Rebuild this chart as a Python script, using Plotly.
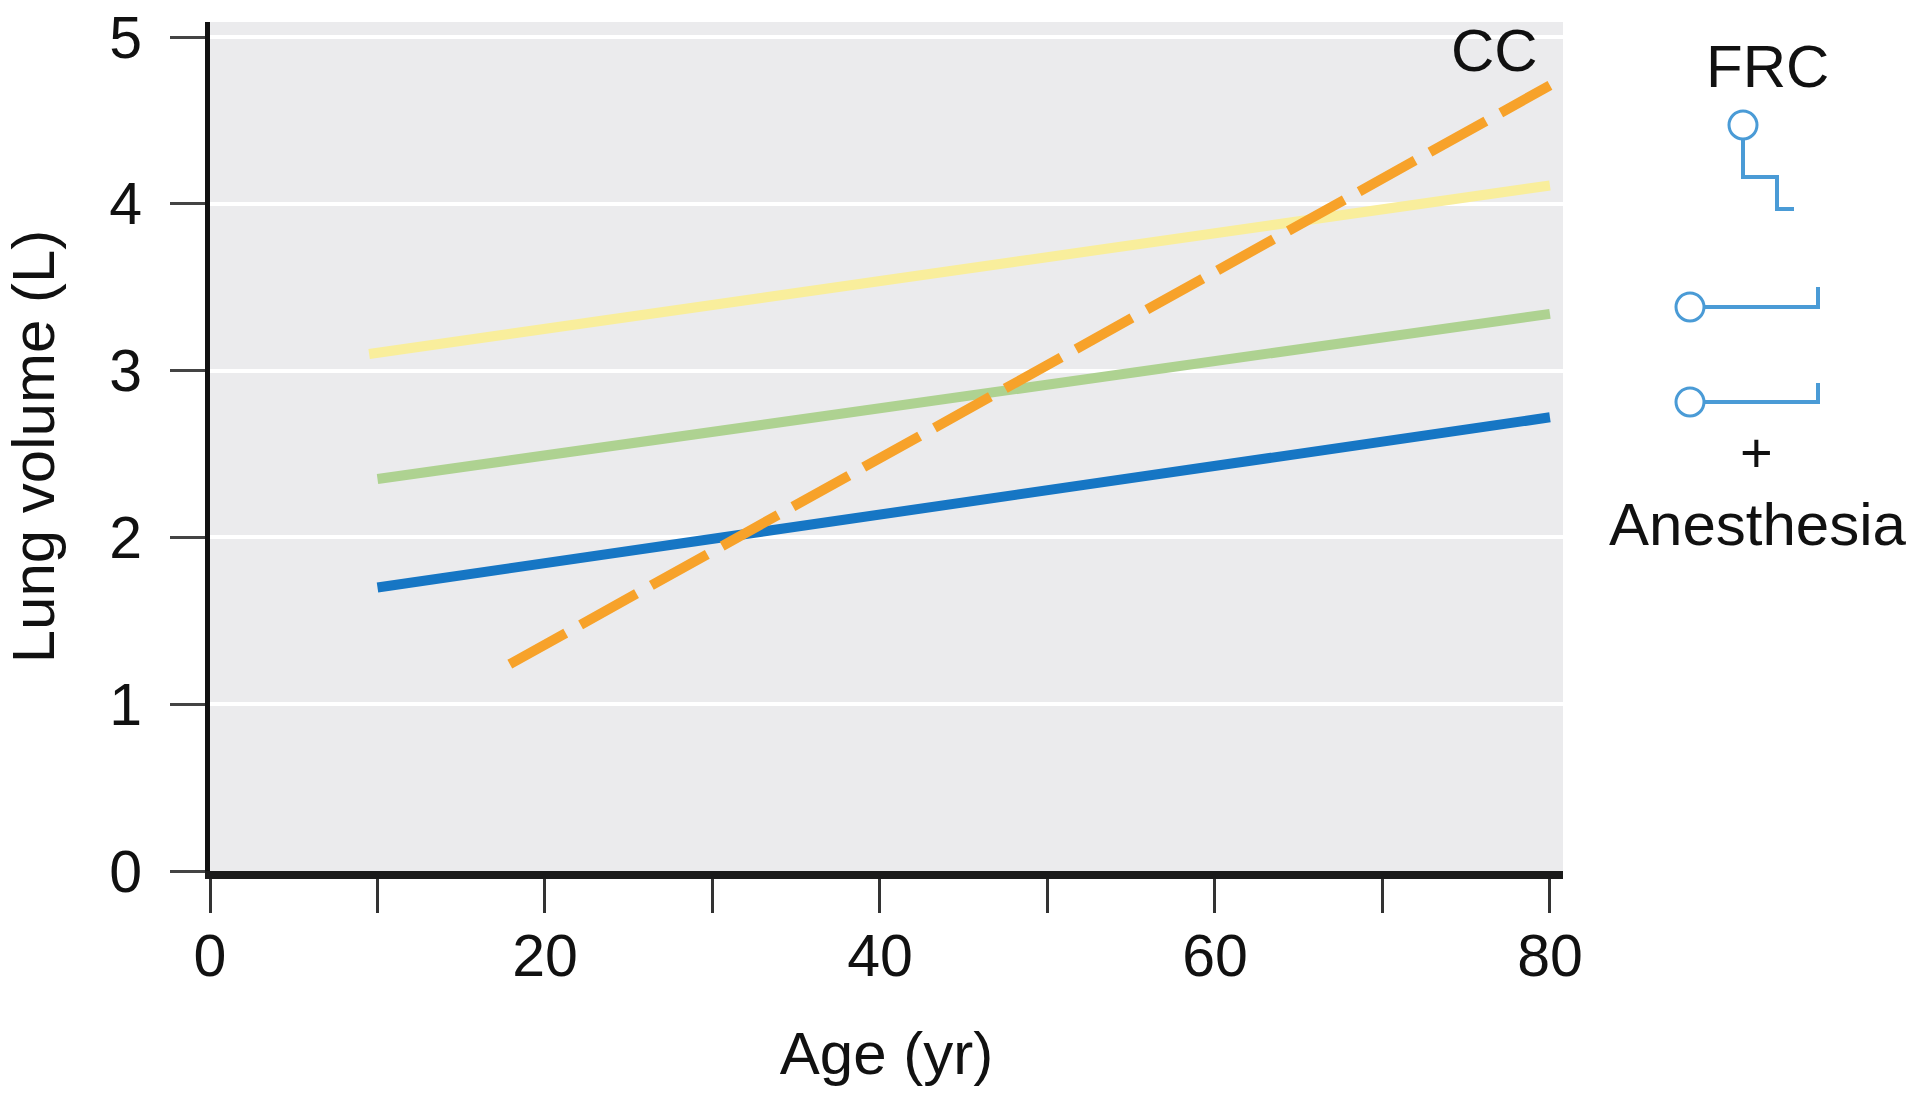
import plotly.graph_objects as go

# Lung volume vs age: FRC in three postures and closing capacity (CC)

# values
age_upright = [9.5, 40, 80]
frc_upright = [3.10, 3.54, 4.11]

age_supine = [10, 47, 80]
frc_supine = [2.35, 2.88, 3.34]

age_anesth = [10, 30.6, 50, 60, 80]
frc_anesth = [1.70, 2.00, 2.28, 2.44, 2.72]

age_cc = [17.9, 80]
cc_values = [1.24, 4.71]

x_ticks = [0, 20, 40, 60, 80]
y_ticks = [0, 1, 2, 3, 4, 5]

FONT = "Liberation Sans, Arial, sans-serif"
ICON_BLUE = "#4A9BD6"

W, H = 1929, 1101
# plot area in pixels
PL, PR, PT, PB = 210, 1563, 22, 871


def px(x):
    return (x - PL) / (PR - PL)


def py(y):
    return (PB - y) / (PB - PT)


def pix_path(path):
    # turn a pixel "M/H/V" path into paper coordinates
    parts = path.split()
    out = []
    cur_x = cur_y = 0.0
    i = 0
    while i < len(parts):
        cmd = parts[i]
        if cmd == 'M':
            cur_x, cur_y = float(parts[i + 1]), float(parts[i + 2])
            out.append(f"M {px(cur_x)},{py(cur_y)}")
            i += 3
        elif cmd == 'H':
            cur_x = float(parts[i + 1])
            out.append(f"L {px(cur_x)},{py(cur_y)}")
            i += 2
        elif cmd == 'V':
            cur_y = float(parts[i + 1])
            out.append(f"L {px(cur_x)},{py(cur_y)}")
            i += 2
    return ' '.join(out)


fig = go.Figure()

fig.add_trace(go.Scatter(x=age_upright, y=frc_upright, mode='lines',
                         line=dict(color='#F9EE9C', width=10), name='FRC upright'))
fig.add_trace(go.Scatter(x=age_supine, y=frc_supine, mode='lines',
                         line=dict(color='#AED291', width=10), name='FRC supine'))
fig.add_trace(go.Scatter(x=age_anesth, y=frc_anesth, mode='lines',
                         line=dict(color='#1676C4', width=10), name='FRC supine + anesthesia'))
fig.add_trace(go.Scatter(x=age_cc, y=cc_values, mode='lines',
                         line=dict(color='#F7A22A', width=10, dash='64px,17px'), name='CC'))

# side icons (circle + posture line), pixels
shapes = []
icons = [
    ((1743, 125), "M 1743 139 V 177 H 1777 V 209 H 1794"),
    ((1690, 307), "M 1704 307 H 1818 V 287"),
    ((1690, 402), "M 1704 402 H 1818 V 383"),
]
r = 14
for (cx, cy), path in icons:
    shapes.append(dict(type='path', xref='paper', yref='paper', path=pix_path(path),
                       line=dict(color=ICON_BLUE, width=4)))
    shapes.append(dict(type='circle', xref='paper', yref='paper',
                       x0=px(cx - r), x1=px(cx + r), y0=py(cy + r), y1=py(cy - r),
                       line=dict(color=ICON_BLUE, width=3), fillcolor='white'))

side_text = [('FRC', 1767, 66, 60), ('+', 1756, 452, 56), ('Anesthesia', 1757, 524, 60)]

annotations = [
    dict(x=76.7, y=4.92, xref='x', yref='y', text='CC', showarrow=False,
         xanchor='center', yanchor='middle',
         font=dict(size=60, color='#111', family=FONT)),
]
for txt, sx, sy, size in side_text:
    annotations.append(dict(x=px(sx), y=py(sy), xref='paper', yref='paper', text=txt,
                            showarrow=False, xanchor='center', yanchor='middle',
                            font=dict(size=size, color='#111', family=FONT)))

fig.update_layout(
    width=W, height=H,
    margin=dict(l=PL, r=W - PR, t=PT, b=H - PB),
    paper_bgcolor='white',
    plot_bgcolor='#EBEBED',
    showlegend=False,
    font=dict(family=FONT, size=59, color='#111'),
    shapes=shapes,
    annotations=annotations,
    xaxis=dict(
        range=[0, 80.78], tickvals=x_ticks, showgrid=False, zeroline=False,
        automargin=False, ticklabeloverflow='allow',
        showline=True, linecolor='#1a1a1a', linewidth=8,
        ticks='outside', ticklen=34, tickwidth=3, tickcolor='#333',
        ticklabelstandoff=-8,
        minor=dict(dtick=10, ticks='outside', ticklen=34, tickwidth=3, tickcolor='#333'),
        title=dict(text='Age (yr)', standoff=47, font=dict(size=60)),
    ),
    yaxis=dict(
        range=[0, 5.09], tickvals=y_ticks, showgrid=True, gridcolor='white', gridwidth=4,
        zeroline=False, showline=True, linecolor='#111', linewidth=5,
        automargin=False, ticklabeloverflow='allow',
        ticks='outside', ticklen=35, tickwidth=3, tickcolor='#444',
        ticklabelstandoff=16,
        title=dict(text='Lung volume (L)', standoff=62, font=dict(size=60)),
    ),
)

# drop the page's default body margin so the figure sits at the window corner
fig.write_html("out.html", config={'displayModeBar': False},
               post_script="document.body.style.margin = '0';")
